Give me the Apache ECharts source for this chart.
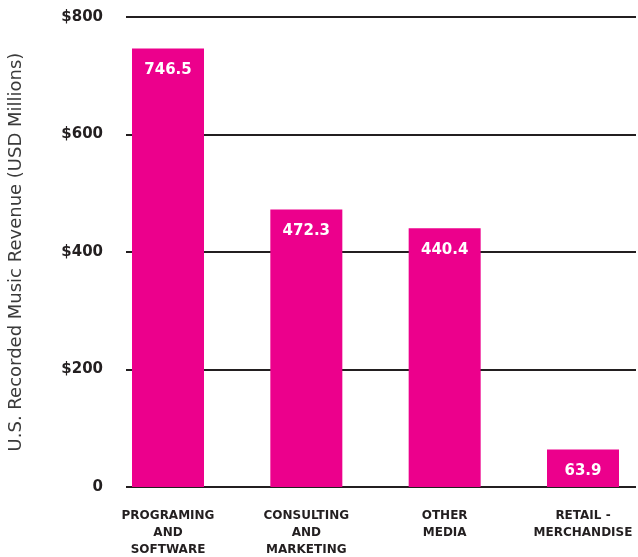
<!DOCTYPE html>
<html>
<head>
<meta charset="utf-8">
<script src="https://cdn.jsdelivr.net/npm/echarts@6/dist/echarts.min.js"></script>
<style>
  html, body { margin: 0; padding: 0; background: #fff; }
  #chart { width: 638px; height: 557px; }
</style>
</head>
<body>
<div id="chart"></div>
<script>
// Revenue by licensing segment
const categories = ['PROGRAMING\nAND\nSOFTWARE', 'CONSULTING\nAND\nMARKETING', 'OTHER\nMEDIA', 'RETAIL -\nMERCHANDISE'];
const revenue = [746.5, 472.3, 440.4, 63.9];
const yTicks = [0, 200, 400, 600, 800];

const ink = '#231f20';
const magenta = '#ec008c';
const font = '"DejaVu Sans", "Noto Sans", sans-serif';

const chart = echarts.init(document.getElementById('chart'));
chart.setOption({
  animation: false,
  grid: [
    // grid carrying the value axis and the horizontal rules
    { left: 126, right: 2, top: 17, height: 470, containLabel: false, outerBoundsMode: 'none' },
    // grid carrying the bars; categories sit on tick points from first to last bar centre
    { left: 168, width: 415, top: 17, height: 470, containLabel: false, outerBoundsMode: 'none' }
  ],
  xAxis: [
    { gridIndex: 0, type: 'category', data: categories, show: false },
    {
      gridIndex: 1, type: 'category', data: categories, boundaryGap: false,
      axisLine: { show: false }, axisTick: { show: false },
      axisLabel: {
        interval: 0, margin: 20, color: ink, fontFamily: font,
        fontWeight: 'bold', fontSize: 12, lineHeight: 17, align: 'center'
      }
    }
  ],
  yAxis: [
    {
      gridIndex: 0, type: 'value', min: 0, max: 800, interval: 200,
      name: 'U.S. Recorded Music Revenue (USD Millions)',
      nameLocation: 'middle', nameGap: 101, nameRotate: 90,
      nameTextStyle: { color: '#3a3a3a', fontFamily: font, fontSize: 18, fontWeight: 'normal' },
      axisLine: { show: false }, axisTick: { show: false },
      axisLabel: {
        margin: 23, color: ink, fontFamily: font, fontWeight: 'bold', fontSize: 15,
        formatter: v => yTicks.includes(v) ? (v === 0 ? '0' : '$' + v) : ''
      },
      splitLine: { show: true, lineStyle: { color: ink, width: 2 } }
    },
    { gridIndex: 1, type: 'value', min: 0, max: 800, interval: 200, show: false, splitLine: { show: false } }
  ],
  series: [{
    type: 'bar',
    xAxisIndex: 1, yAxisIndex: 1,
    data: revenue,
    barWidth: 72,
    itemStyle: { color: magenta },
    label: {
      show: true, position: 'insideTop', distance: 14,
      color: '#fff', fontFamily: font, fontWeight: 'bold', fontSize: 15,
      formatter: p => p.value.toFixed(1)
    }
  }]
});
</script>
</body>
</html>
